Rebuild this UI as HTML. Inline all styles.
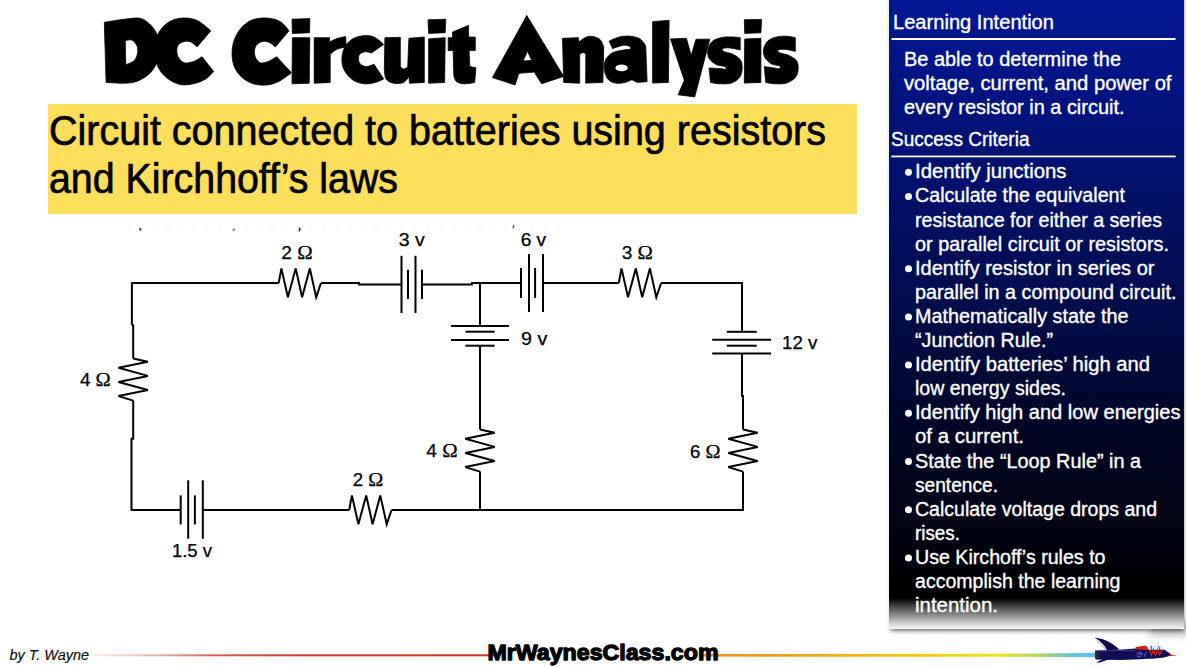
<!DOCTYPE html>
<html><head><meta charset="utf-8"><title>DC Circuit Analysis</title>
<style>html,body{margin:0;padding:0;background:#fff;}body{width:1186px;height:667px;overflow:hidden;font-family:"Liberation Sans",sans-serif;}</style>
</head><body>
<svg width="1186" height="667" viewBox="0 0 1186 667" style="display:block"><defs>
<filter id="blur2" x="-60%" y="-100%" width="220%" height="300%"><feGaussianBlur stdDeviation="3.5"/></filter>
<filter id="blur" x="-5%" y="-5%" width="110%" height="110%"><feGaussianBlur stdDeviation="2.2"/></filter>
<linearGradient id="pg" gradientUnits="userSpaceOnUse" x1="0" y1="0" x2="0" y2="629">
  <stop offset="0" stop-color="rgb(2,23,150)"/>
  <stop offset="0.215" stop-color="rgb(1,18,118)"/>
  <stop offset="0.54" stop-color="rgb(1,11,66)"/>
  <stop offset="0.696" stop-color="rgb(0,5,35)"/>
  <stop offset="0.847" stop-color="rgb(2,3,18)"/>
  <stop offset="0.92" stop-color="rgb(0,0,4)"/>
  <stop offset="0.951" stop-color="rgb(0,0,0)"/>
  <stop offset="0.966" stop-color="rgb(80,80,80)"/>
  <stop offset="0.98" stop-color="rgb(150,150,150)"/>
  <stop offset="0.992" stop-color="rgb(215,215,215)"/>
  <stop offset="1" stop-color="rgb(245,245,245)"/>
</linearGradient>
<linearGradient id="redline" gradientUnits="userSpaceOnUse" x1="94" y1="0" x2="494" y2="0">
  <stop offset="0" stop-color="#f8ece8"/>
  <stop offset="0.15" stop-color="#eab8ac"/>
  <stop offset="0.3" stop-color="#d06450"/>
  <stop offset="0.5" stop-color="#c44430"/>
  <stop offset="1" stop-color="#c23818"/>
</linearGradient>
<linearGradient id="oline" gradientUnits="userSpaceOnUse" x1="700" y1="0" x2="1095" y2="0">
  <stop offset="0" stop-color="#e8901c"/>
  <stop offset="0.25" stop-color="#eca41c"/>
  <stop offset="0.55" stop-color="#f0c818"/>
  <stop offset="0.75" stop-color="#f0e020"/>
  <stop offset="0.87" stop-color="#a8d868"/>
  <stop offset="0.94" stop-color="#68c4d8"/>
  <stop offset="1" stop-color="#5cc0ec"/>
</linearGradient>
<linearGradient id="shadowL" x1="1" y1="0" x2="0" y2="0">
  <stop offset="0" stop-color="#000" stop-opacity="0.13"/>
  <stop offset="1" stop-color="#000" stop-opacity="0"/>
</linearGradient>
<linearGradient id="shadowB" x1="0" y1="0" x2="0" y2="1">
  <stop offset="0" stop-color="#000" stop-opacity="0.45"/>
  <stop offset="0.5" stop-color="#000" stop-opacity="0.15"/>
  <stop offset="1" stop-color="#000" stop-opacity="0"/>
</linearGradient>
</defs>
<g fill="#000" fill-rule="evenodd" stroke="#000" stroke-width="0.8" stroke-linejoin="round"><path d="M104.3,22.3C104.3,22.3 118.5,19.9 124.6,19.2C130.7,18.5 136.1,17.3 140.6,18.4C145.1,19.5 148.7,22.9 151.6,26.0C154.5,29.1 156.6,32.9 157.8,37.0C159.0,41.1 159.0,46.3 158.8,50.6C158.6,54.9 158.2,59.0 156.6,62.9C155.0,66.8 152.5,70.8 149.2,73.9C145.9,77.0 141.0,79.8 136.9,81.3C132.8,82.8 129.7,83.0 124.6,83.2C119.5,83.4 106.1,82.5 106.1,82.5L104.3,22.3ZM125.2,40.7C125.2,40.7 130.1,39.3 132.0,40.1C133.9,40.9 136.0,43.6 136.9,45.7C137.8,47.9 137.9,50.5 137.5,53.0C137.1,55.5 136.3,58.4 134.4,60.4C132.5,62.4 125.8,64.7 125.8,64.7L125.2,40.7Z"/><path d="M210.7,30.9C210.7,30.9 202.5,23.2 198.4,21.1C194.3,19.0 190.2,18.2 186.1,18.0C182.0,17.8 177.5,18.5 173.8,19.8C170.1,21.1 166.8,23.1 163.9,26.0C161.0,28.9 158.2,32.7 156.6,37.0C155.0,41.3 153.9,46.9 154.1,51.8C154.3,56.7 155.8,62.3 157.8,66.6C159.9,70.9 162.7,74.6 166.4,77.6C170.1,80.6 175.4,83.4 179.9,84.4C184.4,85.4 189.1,84.7 193.4,83.8C197.7,82.9 202.3,81.0 205.7,78.9C209.1,76.9 213.7,71.5 213.7,71.5L202.0,56.7C202.0,56.7 196.3,60.6 193.4,61.6C190.5,62.6 187.2,63.5 184.8,62.9C182.4,62.3 180.0,60.0 178.7,58.0C177.4,56.0 176.8,52.9 176.8,50.6C176.8,48.3 177.4,45.9 178.7,44.4C180.0,42.9 182.8,41.8 184.8,41.4C186.9,41.0 188.9,41.1 191.0,42.0C193.1,42.9 197.1,46.9 197.1,46.9L210.7,30.9Z"/><path d="M288.9,30.9C288.9,30.9 285.2,25.4 282.8,23.5C280.4,21.6 277.7,20.1 274.2,19.2C270.7,18.3 266.0,17.7 261.9,18.0C257.8,18.3 253.3,19.2 249.6,21.1C245.9,23.1 242.5,26.2 239.8,29.7C237.1,33.2 234.9,37.7 233.6,42.0C232.3,46.3 231.9,51.2 232.1,55.5C232.3,59.8 233.1,64.1 234.8,67.8C236.5,71.5 239.1,74.9 242.2,77.6C245.3,80.3 249.2,82.6 253.3,83.8C257.4,85.0 262.5,85.4 266.8,85.0C271.1,84.6 275.0,83.3 279.1,81.3C283.2,79.2 291.4,72.7 291.4,72.7L276.6,56.7C276.6,56.7 270.6,60.6 268.0,61.6C265.4,62.6 262.8,63.5 260.7,62.9C258.6,62.3 256.7,60.0 255.7,58.0C254.7,56.0 254.3,52.9 254.5,50.6C254.7,48.3 255.6,45.9 257.0,44.4C258.4,42.9 261.1,41.7 263.1,41.4C265.2,41.1 267.2,41.7 269.3,42.6C271.4,43.5 275.4,46.9 275.4,46.9L288.9,30.9Z"/><path d="M292.0,19.2L309.8,18.6L309.6,32.7L292.4,33.4L292.0,19.2Z"/><path d="M292.4,37.7L309.8,37.7L309.2,83.2L292.0,83.8L292.4,37.7Z"/><path d="M314.2,37.7L329.6,37.7L329.6,42.0C329.6,42.0 334.3,39.4 337.0,38.5C339.7,37.6 345.6,36.4 345.6,36.4L346.2,46.9C346.2,46.9 339.7,48.1 337.0,49.3C334.3,50.5 330.2,54.3 330.2,54.3L330.2,82.5L314.2,83.2L314.2,37.7Z"/><path d="M383.7,44.4C383.7,44.4 377.4,38.4 373.9,37.0C370.4,35.6 366.5,35.4 362.8,35.8C359.1,36.2 354.8,37.5 351.7,39.5C348.6,41.5 345.9,44.8 344.3,48.1C342.7,51.4 341.9,55.5 341.9,59.2C341.9,62.9 342.4,66.7 344.3,70.2C346.2,73.7 349.7,77.8 353.0,80.1C356.3,82.4 360.3,83.4 364.0,83.8C367.7,84.2 371.8,83.3 375.1,82.5C378.4,81.7 383.7,78.9 383.7,78.9L373.9,64.1C373.9,64.1 368.8,66.6 366.5,66.6C364.2,66.6 361.6,65.3 360.3,64.1C359.0,62.9 358.6,60.8 358.5,59.2C358.4,57.6 358.6,55.5 359.7,54.3C360.8,53.1 363.2,52.0 365.2,51.8C367.1,51.6 371.4,53.0 371.4,53.0L383.7,44.4Z"/><path d="M384.9,37.7L400.3,37.3L400.3,66.6C400.3,66.6 402.2,68.9 403.4,69.0C404.6,69.1 407.7,67.2 407.7,67.2L408.9,38.3L424.3,37.0L424.3,82.5L409.5,83.2L408.9,76.4C408.9,76.4 406.0,81.4 403.4,82.5C400.8,83.6 396.4,83.8 393.5,83.2C390.6,82.6 387.6,81.3 386.1,78.9C384.6,76.5 384.3,69.0 384.3,69.0L384.9,37.7Z"/><path d="M428.0,19.8L445.8,19.2L445.2,32.7L428.6,33.4L428.0,19.8Z"/><path d="M428.6,38.9L445.2,37.7L444.6,82.5L428.6,83.2L428.6,38.9Z"/><path d="M452.5,32.1L468.5,25.4L468.5,37.0L475.3,37.0L475.3,50.6L469.1,50.6L469.8,66.6L475.9,67.8L474.7,82.5C474.7,82.5 466.7,84.0 463.6,83.8C460.5,83.6 457.8,82.7 456.2,81.3C454.6,79.9 453.8,75.2 453.8,75.2L453.2,50.6L448.2,50.6L448.2,37.7L452.5,37.7L452.5,32.1Z"/><path d="M526.8,15.5L563.7,76.4L541.6,83.8L534.2,72.1L518.8,73.3L515.1,85.0L492.4,77.6L526.8,15.5ZM527.4,51.2L531.7,60.4L523.1,61.0L527.4,51.2Z"/><path d="M562.5,38.3L578.4,37.7L578.8,42.0C578.8,42.0 584.9,36.9 588.3,36.4C591.7,35.9 596.7,37.1 599.3,38.9C601.9,40.6 603.7,46.9 603.7,46.9L602.9,82.4L585.7,83.1L585.8,54.3C585.8,54.3 584.4,52.4 583.4,52.4C582.4,52.4 579.7,54.3 579.7,54.3L579.7,83.2L563.7,82.5L562.5,38.3Z"/><path d="M609.1,41.0C609.1,41.0 615.9,37.7 619.5,36.9C623.1,36.1 627.0,35.9 630.5,36.2C634.0,36.6 637.7,37.4 640.2,39.0C642.7,40.6 645.7,45.9 645.7,45.9L647.1,81.7L637.4,82.4L631.9,79.7C631.9,79.7 627.8,81.8 625.0,82.4C622.2,83.0 618.2,83.7 615.3,83.1C612.4,82.5 609.6,81.3 607.8,79.0C606.0,76.7 604.6,72.5 604.3,69.3C603.9,66.1 604.3,62.5 605.7,59.7C607.1,57.0 609.6,54.4 612.6,52.8C615.6,51.2 620.6,50.6 623.6,50.0C626.6,49.4 630.5,49.3 630.5,49.3C630.5,49.3 630.9,47.3 629.8,46.6C628.6,45.9 626.5,44.9 623.6,45.2C620.7,45.5 612.6,48.6 612.6,48.6L609.1,41.0Z"/><path d="M652.6,21.7L669.1,20.3L668.4,82.4L652.6,83.1L652.6,21.7Z"/><path d="M670.5,39.0L686.4,38.3L691.2,55.5L696.0,39.2L709.8,39.2L694.7,96.9L678.1,94.8L684.3,80.3L670.5,39.0Z"/><path d="M740.2,37.6L740.2,50.0C740.2,50.0 732.7,48.1 729.8,47.9C726.9,47.7 723.9,48.0 722.9,48.6C721.9,49.2 722.0,50.5 723.6,51.4C725.2,52.3 729.8,52.7 732.6,54.1C735.4,55.5 738.6,57.4 740.2,59.7C741.8,62.0 742.3,64.9 742.2,67.9C742.1,70.9 741.3,75.1 739.5,77.6C737.7,80.1 734.4,82.1 731.2,83.1C728.0,84.1 723.7,83.9 720.2,83.8C716.8,83.7 710.5,82.4 710.5,82.4L709.1,67.9C709.1,67.9 717.4,68.4 720.2,68.6C723.0,68.8 724.9,69.6 725.7,69.3C726.5,69.0 726.6,67.4 725.0,66.6C723.4,65.8 718.6,65.9 716.0,64.5C713.4,63.1 710.5,60.7 709.1,58.3C707.7,55.9 707.3,52.8 707.8,50.0C708.3,47.2 709.6,43.8 711.9,41.7C714.2,39.6 718.4,38.4 721.6,37.6C724.8,36.8 728.1,36.9 731.2,36.9C734.3,36.9 740.2,37.6 740.2,37.6Z"/><path d="M744.3,19.7L761.6,19.4L760.9,32.8L744.7,33.4L744.3,19.7Z"/><path d="M744.7,39.0L760.9,38.3L760.9,82.4L744.3,83.1L744.7,39.0Z"/><path d="M795.3,37.6L795.3,51.4C795.3,51.4 787.9,49.5 785.0,49.3C782.1,49.1 779.0,49.4 778.1,50.0C777.2,50.6 777.7,51.9 779.5,52.8C781.3,53.7 786.2,54.1 789.1,55.5C792.0,56.9 795.2,58.7 796.7,61.0C798.2,63.3 798.3,66.5 798.1,69.3C797.9,72.1 797.2,75.3 795.3,77.6C793.3,79.9 789.7,82.1 786.4,83.1C783.1,84.1 778.8,83.9 775.3,83.8C771.8,83.7 765.7,82.4 765.7,82.4L764.3,66.6C764.3,66.6 771.5,67.6 774.0,67.9C776.5,68.2 778.6,68.9 779.5,68.6C780.4,68.3 780.9,66.7 779.5,65.9C778.1,65.1 773.6,65.2 771.2,63.8C768.8,62.4 766.3,60.0 765.0,57.6C763.7,55.2 763.1,52.1 763.6,49.3C764.1,46.5 765.6,43.1 767.8,41.0C770.0,38.9 773.6,37.7 776.7,36.9C779.8,36.1 783.3,36.1 786.4,36.2C789.5,36.3 795.3,37.6 795.3,37.6Z"/></g><ellipse cx="621.6" cy="67.9" rx="6.2" ry="3.4" fill="#fff"/>
<rect x="48" y="104" width="809" height="110" fill="#FFDE5C"/>
<text x="49" y="145.2" font-family="Liberation Sans" font-size="42" fill="#000" textLength="777" lengthAdjust="spacingAndGlyphs" stroke="#000" stroke-width="0.7">Circuit connected to batteries using resistors</text>
<text x="49" y="192.5" font-family="Liberation Sans" font-size="42" fill="#000" textLength="349" lengthAdjust="spacingAndGlyphs" stroke="#000" stroke-width="0.7">and Kirchhoff’s laws</text>
<g fill="#222"><rect x="139.5" y="228" width="2" height="2.5"/><rect x="232.5" y="228" width="2" height="2.5"/><path d="M298.5,227.8 h2 v2 l-1,1.6 h-1 l0.6,-1.4 h-0.6 z"/><path d="M513,225.5 l1.5,0 l-1.2,3 l-0.8,0 z"/></g>
<g fill="#eeeeee"><rect x="128" y="228" width="2" height="1.5"/><rect x="141" y="228" width="2" height="1.5"/><rect x="154" y="228" width="2" height="1.5"/><rect x="167" y="228" width="2" height="1.5"/><rect x="180" y="228" width="2" height="1.5"/><rect x="193" y="228" width="2" height="1.5"/><rect x="206" y="228" width="2" height="1.5"/><rect x="219" y="228" width="2" height="1.5"/><rect x="232" y="228" width="2" height="1.5"/><rect x="245" y="228" width="2" height="1.5"/><rect x="258" y="228" width="2" height="1.5"/><rect x="271" y="228" width="2" height="1.5"/><rect x="284" y="228" width="2" height="1.5"/><rect x="297" y="228" width="2" height="1.5"/><rect x="310" y="228" width="2" height="1.5"/><rect x="323" y="228" width="2" height="1.5"/><rect x="336" y="228" width="2" height="1.5"/><rect x="349" y="228" width="2" height="1.5"/><rect x="362" y="228" width="2" height="1.5"/><rect x="375" y="228" width="2" height="1.5"/><rect x="388" y="228" width="2" height="1.5"/><rect x="401" y="228" width="2" height="1.5"/><rect x="414" y="228" width="2" height="1.5"/><rect x="427" y="228" width="2" height="1.5"/><rect x="440" y="228" width="2" height="1.5"/><rect x="453" y="228" width="2" height="1.5"/><rect x="466" y="228" width="2" height="1.5"/><rect x="479" y="228" width="2" height="1.5"/><rect x="492" y="228" width="2" height="1.5"/><rect x="505" y="228" width="2" height="1.5"/><rect x="518" y="228" width="2" height="1.5"/><rect x="531" y="228" width="2" height="1.5"/><rect x="544" y="228" width="2" height="1.5"/><rect x="557" y="228" width="2" height="1.5"/></g>
<rect x="890.5" y="-10" width="293" height="641" fill="#000" fill-opacity="0.55" filter="url(#blur)"/>
<rect x="1150" y="622" width="40" height="14" fill="#000" fill-opacity="0.22" filter="url(#blur2)"/>
<rect x="888" y="0" width="1" height="629" fill="#f2f2f2"/>
<rect x="889" y="0" width="295" height="629" fill="url(#pg)"/>
<text x="893" y="28.8" font-family="Liberation Sans" font-size="20" fill="#fff" textLength="161" lengthAdjust="spacingAndGlyphs" stroke="#fff" stroke-width="0.35">Learning Intention</text>
<rect x="891.5" y="38" width="284" height="2" fill="#fff"/>
<text x="904" y="65.5" font-family="Liberation Sans" font-size="20" fill="#fff" textLength="217" lengthAdjust="spacingAndGlyphs" stroke="#fff" stroke-width="0.35">Be able to determine the</text>
<text x="904" y="89.6" font-family="Liberation Sans" font-size="20" fill="#fff" textLength="267.5" lengthAdjust="spacingAndGlyphs" stroke="#fff" stroke-width="0.35">voltage, current, and power of</text>
<text x="904" y="113.7" font-family="Liberation Sans" font-size="20" fill="#fff" textLength="220.5" lengthAdjust="spacingAndGlyphs" stroke="#fff" stroke-width="0.35">every resistor in a circuit.</text>
<text x="891" y="145.5" font-family="Liberation Sans" font-size="20" fill="#fff" textLength="138.5" lengthAdjust="spacingAndGlyphs" stroke="#fff" stroke-width="0.35">Success Criteria</text>
<rect x="891.3" y="155.6" width="284.4" height="1.7" fill="#fff"/>
<circle cx="908.5" cy="172.3" r="3.5" fill="#fff"/>
<text x="915" y="178.3" font-family="Liberation Sans" font-size="20" fill="#fff" textLength="151.5" lengthAdjust="spacingAndGlyphs" stroke="#fff" stroke-width="0.35">Identify junctions</text>
<circle cx="908.5" cy="196.4" r="3.5" fill="#fff"/>
<text x="915" y="202.4" font-family="Liberation Sans" font-size="20" fill="#fff" textLength="210" lengthAdjust="spacingAndGlyphs" stroke="#fff" stroke-width="0.35">Calculate the equivalent</text>
<text x="915" y="226.5" font-family="Liberation Sans" font-size="20" fill="#fff" textLength="247" lengthAdjust="spacingAndGlyphs" stroke="#fff" stroke-width="0.35">resistance for either a series</text>
<text x="915" y="250.6" font-family="Liberation Sans" font-size="20" fill="#fff" textLength="254" lengthAdjust="spacingAndGlyphs" stroke="#fff" stroke-width="0.35">or parallel circuit or resistors.</text>
<circle cx="908.5" cy="268.7" r="3.5" fill="#fff"/>
<text x="915" y="274.7" font-family="Liberation Sans" font-size="20" fill="#fff" textLength="239.5" lengthAdjust="spacingAndGlyphs" stroke="#fff" stroke-width="0.35">Identify resistor in series or</text>
<text x="915" y="298.8" font-family="Liberation Sans" font-size="20" fill="#fff" textLength="261.5" lengthAdjust="spacingAndGlyphs" stroke="#fff" stroke-width="0.35">parallel in a compound circuit.</text>
<circle cx="908.5" cy="316.9" r="3.5" fill="#fff"/>
<text x="915" y="322.9" font-family="Liberation Sans" font-size="20" fill="#fff" textLength="213.5" lengthAdjust="spacingAndGlyphs" stroke="#fff" stroke-width="0.35">Mathematically state the</text>
<text x="915" y="347.0" font-family="Liberation Sans" font-size="20" fill="#fff" textLength="138" lengthAdjust="spacingAndGlyphs" stroke="#fff" stroke-width="0.35">“Junction Rule.”</text>
<circle cx="908.5" cy="365.1" r="3.5" fill="#fff"/>
<text x="915" y="371.1" font-family="Liberation Sans" font-size="20" fill="#fff" textLength="235" lengthAdjust="spacingAndGlyphs" stroke="#fff" stroke-width="0.35">Identify batteries’ high and</text>
<text x="915" y="395.2" font-family="Liberation Sans" font-size="20" fill="#fff" textLength="151" lengthAdjust="spacingAndGlyphs" stroke="#fff" stroke-width="0.35">low energy sides.</text>
<circle cx="908.5" cy="413.3" r="3.5" fill="#fff"/>
<text x="915" y="419.3" font-family="Liberation Sans" font-size="20" fill="#fff" textLength="265.5" lengthAdjust="spacingAndGlyphs" stroke="#fff" stroke-width="0.35">Identify high and low energies</text>
<text x="915" y="443.4" font-family="Liberation Sans" font-size="20" fill="#fff" textLength="109" lengthAdjust="spacingAndGlyphs" stroke="#fff" stroke-width="0.35">of a current.</text>
<circle cx="908.5" cy="461.5" r="3.5" fill="#fff"/>
<text x="915" y="467.5" font-family="Liberation Sans" font-size="20" fill="#fff" textLength="226" lengthAdjust="spacingAndGlyphs" stroke="#fff" stroke-width="0.35">State the “Loop Rule” in a</text>
<text x="915" y="491.6" font-family="Liberation Sans" font-size="20" fill="#fff" textLength="83" lengthAdjust="spacingAndGlyphs" stroke="#fff" stroke-width="0.35">sentence.</text>
<circle cx="908.5" cy="509.7" r="3.5" fill="#fff"/>
<text x="915" y="515.7" font-family="Liberation Sans" font-size="20" fill="#fff" textLength="242" lengthAdjust="spacingAndGlyphs" stroke="#fff" stroke-width="0.35">Calculate voltage drops and</text>
<text x="915" y="539.8" font-family="Liberation Sans" font-size="20" fill="#fff" textLength="45" lengthAdjust="spacingAndGlyphs" stroke="#fff" stroke-width="0.35">rises.</text>
<circle cx="908.5" cy="557.9" r="3.5" fill="#fff"/>
<text x="915" y="563.9" font-family="Liberation Sans" font-size="20" fill="#fff" textLength="190.5" lengthAdjust="spacingAndGlyphs" stroke="#fff" stroke-width="0.35">Use Kirchoff’s rules to</text>
<text x="915" y="588.0" font-family="Liberation Sans" font-size="20" fill="#fff" textLength="205.5" lengthAdjust="spacingAndGlyphs" stroke="#fff" stroke-width="0.35">accomplish the learning</text>
<text x="915" y="612.1" font-family="Liberation Sans" font-size="20" fill="#fff" textLength="83" lengthAdjust="spacingAndGlyphs" stroke="#fff" stroke-width="0.35">intention.</text>
<g><polyline points="131.9,325.2 131.9,283.0 278.7,283.0" stroke="#000" stroke-width="2" fill="none" stroke-linejoin="miter" stroke-linecap="butt"/><polyline points="278.7,283.0 281.4,268.4 287.9,297.2 295.7,268.4 302.1,297.2 309.8,268.4 316.2,297.2 321.0,283.0" stroke="#000" stroke-width="2" fill="none" stroke-linejoin="miter" stroke-linecap="butt"/><polyline points="321.0,283.0 359.0,283.0 359.0,284.6 401.5,284.6" stroke="#000" stroke-width="2" fill="none" stroke-linejoin="miter" stroke-linecap="butt"/><line x1="401.5" y1="255.8" x2="401.5" y2="313" stroke="#000" stroke-width="2"/><line x1="408" y1="269.8" x2="408" y2="299" stroke="#000" stroke-width="2"/><line x1="415.5" y1="255.8" x2="415.5" y2="313" stroke="#000" stroke-width="2"/><line x1="422" y1="269.8" x2="422" y2="299" stroke="#000" stroke-width="2"/><polyline points="422.0,284.6 472.0,284.6 472.0,283.0 521.0,283.0" stroke="#000" stroke-width="2" fill="none" stroke-linejoin="miter" stroke-linecap="butt"/><line x1="521" y1="268" x2="521" y2="298" stroke="#000" stroke-width="2"/><line x1="529" y1="254" x2="529" y2="312" stroke="#000" stroke-width="2"/><line x1="535.1" y1="268" x2="535.1" y2="298" stroke="#000" stroke-width="2"/><line x1="543" y1="254" x2="543" y2="312" stroke="#000" stroke-width="2"/><polyline points="543.0,283.0 618.8,283.0" stroke="#000" stroke-width="2" fill="none" stroke-linejoin="miter" stroke-linecap="butt"/><polyline points="618.8,283.0 621.5,268.4 628.0,297.2 635.8,268.4 642.2,297.2 649.9,268.4 656.3,297.2 661.1,283.0" stroke="#000" stroke-width="2" fill="none" stroke-linejoin="miter" stroke-linecap="butt"/><polyline points="661.1,283.0 742.0,283.0 742.0,331.8" stroke="#000" stroke-width="2" fill="none" stroke-linejoin="miter" stroke-linecap="butt"/><line x1="726.7" y1="331.8" x2="756.7" y2="331.8" stroke="#000" stroke-width="2"/><line x1="712.2" y1="339.7" x2="771" y2="339.7" stroke="#000" stroke-width="2"/><line x1="726.7" y1="345.7" x2="756.7" y2="345.7" stroke="#000" stroke-width="2"/><line x1="712.2" y1="353.5" x2="771" y2="353.5" stroke="#000" stroke-width="2"/><polyline points="742.0,353.5 742.0,396.0 743.0,396.0 743.0,429.4" stroke="#000" stroke-width="2" fill="none" stroke-linejoin="miter" stroke-linecap="butt"/><polyline points="743.0,429.4 757.7,432.7 728.3,438.8 757.7,446.9 728.3,453.0 757.7,461.0 728.3,467.1 743.0,471.6" stroke="#000" stroke-width="2" fill="none" stroke-linejoin="miter" stroke-linecap="butt"/><polyline points="743.0,471.6 743.0,510.0 391.5,510.0" stroke="#000" stroke-width="2" fill="none" stroke-linejoin="miter" stroke-linecap="butt"/><polyline points="349.2,510.0 202.8,510.0" stroke="#000" stroke-width="2" fill="none" stroke-linejoin="miter" stroke-linecap="butt"/><polyline points="180.7,510.0 131.5,510.0 131.5,438.7 133.2,438.7 133.2,400.6" stroke="#000" stroke-width="2" fill="none" stroke-linejoin="miter" stroke-linecap="butt"/><polyline points="133.2,358.4 147.9,361.7 118.5,367.8 147.9,375.9 118.5,382.0 147.9,390.0 118.5,396.1 133.2,400.6" stroke="#000" stroke-width="2" fill="none" stroke-linejoin="miter" stroke-linecap="butt"/><polyline points="131.9,325.2 133.2,325.2 133.2,358.4" stroke="#000" stroke-width="2" fill="none" stroke-linejoin="miter" stroke-linecap="butt"/><polyline points="480.0,283.0 480.0,326.0" stroke="#000" stroke-width="2" fill="none" stroke-linejoin="miter" stroke-linecap="butt"/><line x1="451" y1="326" x2="509" y2="326" stroke="#000" stroke-width="2"/><line x1="465.5" y1="331.7" x2="494.7" y2="331.7" stroke="#000" stroke-width="2"/><line x1="451" y1="340" x2="509" y2="340" stroke="#000" stroke-width="2"/><line x1="465.5" y1="345.7" x2="494.7" y2="345.7" stroke="#000" stroke-width="2"/><polyline points="480.0,345.7 480.0,429.4" stroke="#000" stroke-width="2" fill="none" stroke-linejoin="miter" stroke-linecap="butt"/><polyline points="480.0,429.4 494.7,432.7 465.3,438.8 494.7,446.9 465.3,453.0 494.7,461.0 465.3,467.1 480.0,471.6" stroke="#000" stroke-width="2" fill="none" stroke-linejoin="miter" stroke-linecap="butt"/><polyline points="480.0,471.6 480.0,510.0" stroke="#000" stroke-width="2" fill="none" stroke-linejoin="miter" stroke-linecap="butt"/><line x1="180.7" y1="495.4" x2="180.7" y2="524.4" stroke="#000" stroke-width="2"/><line x1="188.2" y1="480.3" x2="188.2" y2="538.7" stroke="#000" stroke-width="2"/><line x1="194.9" y1="495.4" x2="194.9" y2="524.4" stroke="#000" stroke-width="2"/><line x1="202.8" y1="480.3" x2="202.8" y2="538.7" stroke="#000" stroke-width="2"/><polyline points="349.2,510.0 351.9,495.4 358.4,524.2 366.2,495.4 372.6,524.2 380.3,495.4 386.7,524.2 391.5,510.0" stroke="#000" stroke-width="2" fill="none" stroke-linejoin="miter" stroke-linecap="butt"/></g>
<text x="281.2" y="258.7" font-family="Liberation Sans" font-size="17.5" fill="#000" stroke="#000" stroke-width="0.25" textLength="31.4" lengthAdjust="spacingAndGlyphs">2 <tspan font-family="Liberation Serif" font-size="19.0">Ω</tspan></text>
<text x="398.8" y="246.3" font-family="Liberation Sans" font-size="17.5" fill="#000" stroke="#000" stroke-width="0.25" textLength="26.0" lengthAdjust="spacingAndGlyphs">3 v</text>
<text x="520.7" y="246.3" font-family="Liberation Sans" font-size="17.5" fill="#000" stroke="#000" stroke-width="0.25" textLength="25.5" lengthAdjust="spacingAndGlyphs">6 v</text>
<text x="621.7" y="258.8" font-family="Liberation Sans" font-size="17.5" fill="#000" stroke="#000" stroke-width="0.25" textLength="31.2" lengthAdjust="spacingAndGlyphs">3 <tspan font-family="Liberation Serif" font-size="19.0">Ω</tspan></text>
<text x="521.1" y="344.9" font-family="Liberation Sans" font-size="17.5" fill="#000" stroke="#000" stroke-width="0.25" textLength="26.3" lengthAdjust="spacingAndGlyphs">9 v</text>
<text x="782.1" y="348.7" font-family="Liberation Sans" font-size="17.5" fill="#000" stroke="#000" stroke-width="0.25" textLength="35.3" lengthAdjust="spacingAndGlyphs">12 v</text>
<text x="79.9" y="386.2" font-family="Liberation Sans" font-size="17.5" fill="#000" stroke="#000" stroke-width="0.25" textLength="30.9" lengthAdjust="spacingAndGlyphs">4 <tspan font-family="Liberation Serif" font-size="19.0">Ω</tspan></text>
<text x="426.2" y="457.4" font-family="Liberation Sans" font-size="17.5" fill="#000" stroke="#000" stroke-width="0.25" textLength="31.4" lengthAdjust="spacingAndGlyphs">4 <tspan font-family="Liberation Serif" font-size="19.0">Ω</tspan></text>
<text x="690.0" y="457.7" font-family="Liberation Sans" font-size="17.5" fill="#000" stroke="#000" stroke-width="0.25" textLength="30.6" lengthAdjust="spacingAndGlyphs">6 <tspan font-family="Liberation Serif" font-size="19.0">Ω</tspan></text>
<text x="352.7" y="485.7" font-family="Liberation Sans" font-size="17.5" fill="#000" stroke="#000" stroke-width="0.25" textLength="30.5" lengthAdjust="spacingAndGlyphs">2 <tspan font-family="Liberation Serif" font-size="19.0">Ω</tspan></text>
<text x="171.9" y="556.6" font-family="Liberation Sans" font-size="17.5" fill="#000" stroke="#000" stroke-width="0.25" textLength="40.1" lengthAdjust="spacingAndGlyphs">1.5 v</text>
<rect x="94" y="654.3" width="400" height="2" fill="url(#redline)"/>
<path d="M700,654 L1000,653.8 L1095,652.8 L1095,657.2 L1000,656.8 L700,656.6 Z" fill="url(#oline)"/>
<text x="9.5" y="660.4" font-family="Liberation Sans" font-style="italic" font-size="15" fill="#111" stroke="#111" stroke-width="0.2" textLength="79.5" lengthAdjust="spacingAndGlyphs">by T. Wayne</text>
<text x="487.5" y="659.6" font-family="Liberation Sans" font-weight="bold" font-size="22.5" fill="#000" stroke="#000" stroke-width="1.3" stroke-linejoin="round" textLength="231" lengthAdjust="spacingAndGlyphs">MrWaynesClass.com</text>
<g>
<path d="M1094.4,637.5 C1100,638.2 1106,640 1110,642.5 C1114,645 1117,647 1119.5,649.5 L1107,650.5 C1105,646 1102,642 1094.4,637.5 Z" fill="#0e0a48"/>
<path d="M1097,641 C1100,643 1103,646 1105,649" stroke="#6a6ab0" stroke-width="0.6" fill="none"/>
<path d="M1095,650.5 L1119,649.8 L1125,649.3 L1135.7,648.6 L1146,646 L1160,646.2 L1164.5,649.7 L1171.4,654.6 L1168,656.6 C1162,658.4 1150,659 1140,659.2 L1120,660 L1095.5,659.6 Z" fill="#120d56"/>
<path d="M1135.7,647 L1145.9,645.4 L1149,650 L1135.7,649.5 Z" fill="#d8201a"/>
<path d="M1145.9,645.2 L1160.3,646 L1164.4,649.7 L1149,650 Z" fill="#d8ecf4"/>
<path d="M1151,645.6 L1152,650 M1158.4,645.9 L1160,650" stroke="#701818" stroke-width="0.8" fill="none"/>
<path d="M1149.5,649.5 L1151.5,655 L1153.5,649.8 L1155.5,655.3 L1157.5,649.8 L1159.5,654.8 L1162,650" stroke="#d8201a" stroke-width="1.3" fill="none"/>
<path d="M1136.5,653.5 C1138,651.8 1142.5,651.8 1142,654.2 C1141.2,657.2 1137.5,658.2 1136.8,655.6 M1137.5,655 L1141.5,653.6" stroke="#7a88e0" stroke-width="0.8" fill="none"/>
<path d="M1144,657 L1146.5,652" stroke="#8a90c8" stroke-width="0.7" fill="none"/>
<path d="M1169,654.6 L1177.5,655.3 L1169,656.2 Z" fill="#d8201a"/>
<path d="M1096,662.5 L1103,659 L1111,657.2 L1110,659 L1100,662.5 Z" fill="#120d56"/>
<path d="M1096,651 L1135,650.3" stroke="#5a5ab8" stroke-width="0.6" fill="none"/>
<rect x="1095" y="652.6" width="4.5" height="5.6" fill="#2a2a30"/>
</g></svg>
</body></html>
